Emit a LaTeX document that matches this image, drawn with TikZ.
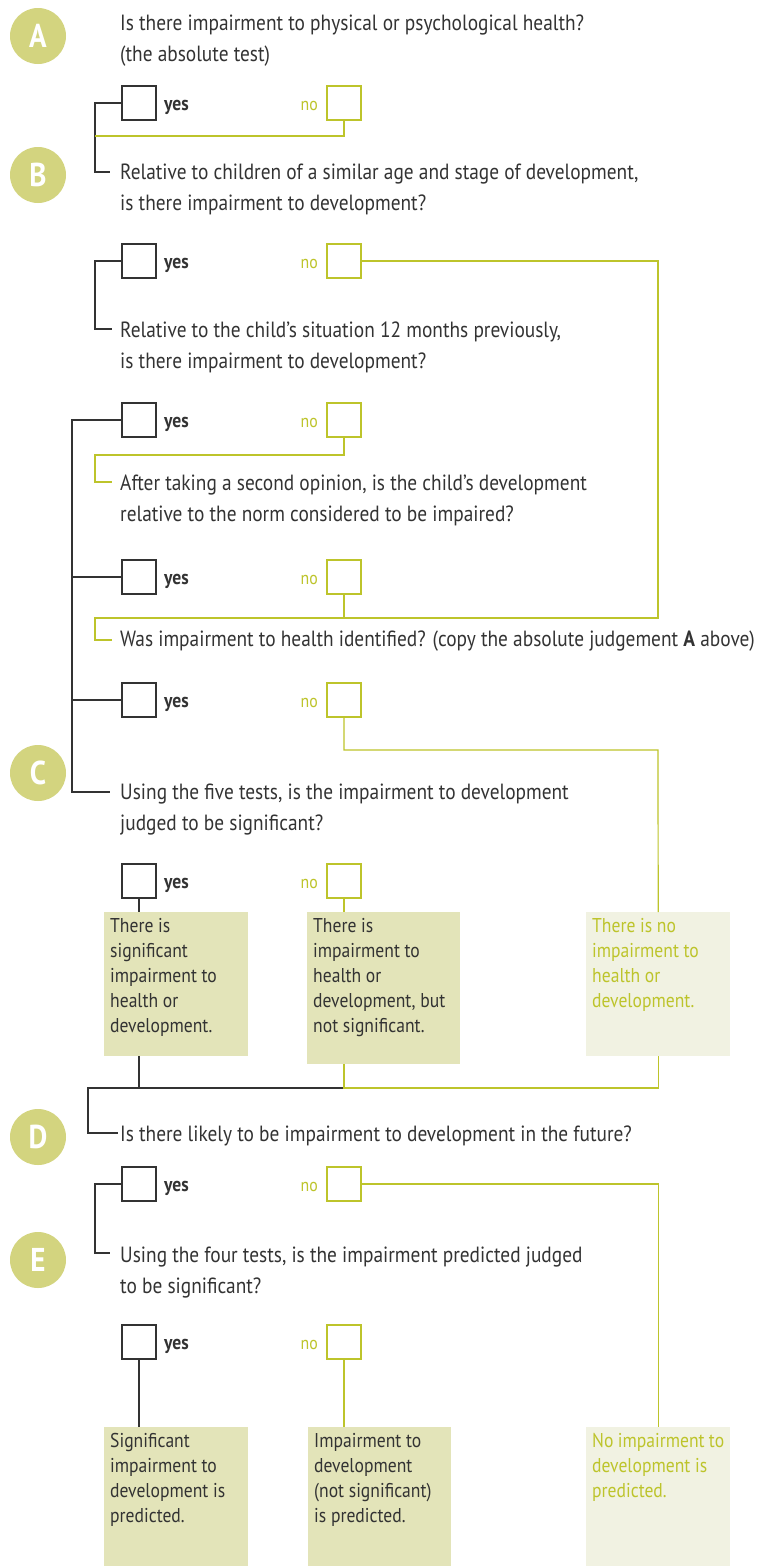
\documentclass[tikz,border=0pt]{standalone}
\usepackage{fontspec}
\setmainfont{PT Sans}[FakeStretch=0.88]
\definecolor{ink}{HTML}{333333}
\definecolor{grn}{HTML}{BDC42B}
\definecolor{circ}{HTML}{D3D47F}
\definecolor{fillA}{HTML}{E3E4B9}
\definecolor{fillB}{HTML}{F1F2E2}
\newcommand{\restext}[3]{\parbox[c][#2pt][t]{#1pt}{\raggedright\vspace*{3pt}\strut #3}}
\tikzset{
 blk/.style={draw=ink, line width=1.2pt},
 gln/.style={draw=grn, line width=1.2pt},
 ybox/.style={draw=ink, line width=1.2pt, minimum size=34pt, inner sep=0pt, fill=white},
 nbox/.style={draw=grn, line width=1.2pt, minimum size=34pt, inner sep=0pt, fill=white},
 ylab/.style={anchor=base west, inner sep=0pt, text=ink, font=\fontsize{20}{20}\selectfont\bfseries},
 nlab/.style={anchor=base east, inner sep=0pt, text=grn, font=\fontsize{18}{18}\selectfont},
 quest/.style={anchor=north west, inner sep=0pt, align=left, text=ink, font=\fontsize{22}{31}\selectfont},
 badge/.style={circle, fill=circ, minimum size=56pt, inner sep=0pt, text=white, font=\fontsize{33}{33}\selectfont\bfseries},
 resbox/.style={anchor=north west, inner xsep=6pt, inner ysep=0pt, fill=fillA, text=ink, font=\fontsize{20}{25}\selectfont},
 reslight/.style={resbox, fill=fillB, text=grn},
}
\begin{document}
\begin{tikzpicture}[x=1pt,y=-1pt]
\path[use as bounding box, fill=white] (0,0) rectangle (766,1566);
% badges
\node[badge] (cA) at (38,36) {A};
\node[badge] (cB) at (38,175) {B};
\node[badge] (cC) at (38,773) {C};
\node[badge] (cD) at (38,1137) {D};
\node[badge] (cE) at (38,1260) {E};
% questions
\node[quest] (qA) at (120,8.3) {\strut Is there impairment to physical or psychological health?\\(the absolute test)};
\node[quest] (qB) at (120,157.3) {\strut Relative to children of a similar age and stage of development,\\is there impairment to development?};
\node[quest] (q3) at (120,315.3) {\strut Relative to the child’s situation 12 months previously,\\is there impairment to development?};
\node[quest] (q4) at (120,468.3) {\strut After taking a second opinion, is the child’s development\\relative to the norm considered to be impaired?};
\node[quest] (q5) at (120,624.3) {\strut Was impairment to health identified? (copy the absolute judgement \textbf{A} above)};
\node[quest] (qC) at (120,777.3) {\strut Using the five tests, is the impairment to development\\judged to be significant?};
\node[quest] (qD) at (120,1119.3) {\strut Is there likely to be impairment to development in the future?};
\node[quest] (qE) at (120,1240.3) {\strut Using the four tests, is the impairment predicted judged\\to be significant?};
\coordinate (qBin) at (110,172);
\coordinate (q3in) at (112,329);
\coordinate (q4in) at (112,482);
\coordinate (q5in) at (112,640);
\coordinate (qCin) at (110,792);
\coordinate (qDin) at (118,1133);
\coordinate (qEin) at (110,1253);
% yes / no rows
\foreach \i/\y in {1/103,2/261,3/420,4/577,5/700,6/881,7/1184,8/1342}{
  \node[ybox] (y\i) at (139,\y) {};
  \node[ylab] (yl\i) at (164,\y+7.5) {yes};
  \node[nbox] (n\i) at (344,\y) {};
  \node[nlab] (nl\i) at (318,\y+7.5) {no};
}
% result boxes
\node[resbox] (b1) at (104,912) {\restext{132}{144}{There is\\significant\\impairment to\\health or\\development.}};
\node[resbox] (b2) at (307,912) {\restext{141}{152}{There is\\impairment to\\health or\\development, but\\not significant.}};
\node[reslight] (b3) at (586,912) {\restext{132}{144}{There is no\\impairment to\\health or\\development.}};
\node[resbox] (b4) at (104,1427) {\restext{132}{139}{Significant\\impairment to\\development is\\predicted.}};
\node[resbox] (b5) at (308,1427) {\restext{131}{139}{Impairment to\\development\\(not significant)\\is predicted.}};
\node[reslight] (b6) at (586,1427) {\restext{132}{139}{No impairment to\\development is\\predicted.}};
% connectors
\draw[blk] (y1.west) -- (95,103) |- (qBin);
\draw[gln] (n1.south) |- (95,136);
\draw[blk] (y2.west) -- (95,261) |- (q3in);
\draw[gln] (n2.east) -| (658,618) -- (95,618) |- (q5in);
\draw[gln] (n4.south) -- (344,618);
\draw[gln] (n3.south) |- (95,455) |- (q4in);
\draw[blk] (y3.west) -- (72,420) |- (qCin);
\draw[blk] (y4.west) -- (72,577);
\draw[blk] (y5.west) -- (72,700);
\draw[gln] (n5.south) |- (658,750) -- (b3.north);
\draw[blk] (y6.south) -- (y6.south |- b1.north);
\draw[gln] (n6.south) -- (n6.south |- b2.north);
\draw[blk] (y6.south |- b1.south) -- (139,1088);
\draw[blk] (344,1088) -- (88,1088) |- (qDin);
\draw[gln] (n6.south |- b2.south) -- (344,1088) -| (b3.south);
\draw[blk] (y7.west) -- (95,1184) |- (qEin);
\draw[gln] (n7.east) -| (b6.north);
\draw[blk] (y8.south) -- (y8.south |- b4.north);
\draw[gln] (n8.south) -- (n8.south |- b5.north);
\end{tikzpicture}
\end{document}
